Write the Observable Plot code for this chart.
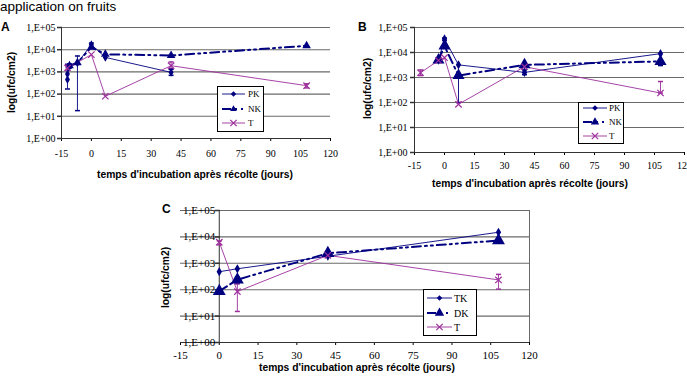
<!DOCTYPE html>
<html><head><meta charset="utf-8">
<script src="https://cdn.jsdelivr.net/npm/d3@7"></script>
<script src="https://cdn.jsdelivr.net/npm/@observablehq/plot@0.6"></script>
<style>
html,body{margin:0;padding:0;background:#fff;}
#root{position:relative;width:687px;height:380px;overflow:hidden;background:#fff;}
#root svg, #root svg text{font-family:"Liberation Serif","DejaVu Serif",serif !important;}
.abs{position:absolute;}
.ttl{font-family:"Liberation Sans",Arial,sans-serif;font-weight:bold;font-size:10.3px;white-space:nowrap;color:#000;}
.lab{font-family:"Liberation Sans",Arial,sans-serif;font-weight:bold;font-size:12px;color:#000;}
.main{font-family:"Liberation Sans",Arial,sans-serif;font-size:13.5px;line-height:14px;white-space:nowrap;color:#000;}
</style></head>
<body><div id="root"></div>
<script>
// ---------- data ----------
const xTicks = [-15, 0, 15, 30, 45, 60, 75, 90, 105, 120];
const yTicks = [1, 10, 100, 1000, 10000, 100000];
const yTickLabels = ["1,E+00", "1,E+01", "1,E+02", "1,E+03", "1,E+04", "1,E+05"];
const xTitle = "temps d'incubation après récolte (jours)";
const yTitle = "log(ufc/cm2)";
const chartTitle = "application on fruits";

// Panel A
const A_PK_day = [-12, -12, -11, -7, 0, 7, 40];
const A_PK_val = [450, 800, 1700, 2500, 17000, 4500, 950];
const A_NK_day = [-11, -7, 0, 7, 40, 108];
const A_NK_val = [1900, 2600, 13000, 6200, 5500, 15000];
const A_T_day = [-12, 0, 7, 40, 108];
const A_T_val = [1500, 6000, 80, 1900, 240];
const A_err_series = ["PK", "PK", "PK", "PK", "NK", "T", "T", "T"];
const A_err_day = [-12, -7, 0, 40, -11, -12, 40, 108];
const A_err_lo = [170, 18, 14000, 700, 1500, 1200, 1400, 190];
const A_err_hi = [2200, 5200, 20000, 1300, 2300, 2000, 2800, 290];

// Panel B
const B_PK_day = [-3, 0, 7, 40, 108];
const B_PK_val = [5000, 35000, 3200, 1600, 9000];
const B_NK_day = [-3, 0, 7, 40, 108];
const B_NK_val = [5000, 18000, 1200, 3200, 4400];
const B_T_day = [-12, -3, 0, 7, 40, 108];
const B_T_val = [1550, 4800, 6200, 85, 2700, 240];
const B_err_series = ["T", "NK", "PK", "PK", "NK", "T"];
const B_err_day = [-12, 7, 0, 40, 108, 108];
const B_err_lo = [1200, 100, 30000, 1300, 3000, 240];
const B_err_hi = [2000, 1200, 38000, 2000, 5000, 690];

// Panel C
const C_TK_day = [0, 7, 42, 108];
const C_TK_val = [480, 620, 1850, 15000];
const C_DK_day = [0, 7, 42, 108];
const C_DK_val = [88, 240, 2400, 7300];
const C_T_day = [0, 7, 42, 108];
const C_T_val = [6300, 85, 2000, 235];
const C_err_series = ["T", "T", "T", "DK"];
const C_err_day = [0, 7, 108, 7];
const C_err_lo = [5000, 15, 105, 170];
const C_err_hi = [7000, 170, 380, 300];

// ---------- styles ----------
const BLUE = "#000080", PURPLE = "#9c2f9c", GRID = "#6a6a6a", AX = "#333";
const styleOf = {
  PK: {stroke: BLUE, width: 0.9, dash: null, symbol: "diamond"},
  TK: {stroke: BLUE, width: 0.9, dash: null, symbol: "diamond"},
  NK: {stroke: BLUE, width: 2, dash: "9,4,2,4,2,4", symbol: "triangle"},
  DK: {stroke: BLUE, width: 2, dash: "9,4,2,4,2,4", symbol: "triangle"},
  T:  {stroke: PURPLE, width: 0.9, dash: null, symbol: "times"}
};
const hLine = {draw(ctx, size) { const r = Math.sqrt(size / Math.PI); ctx.moveTo(-r, 0); ctx.lineTo(r, 0); }};

function zip(days, vals) { return days.map((d, i) => ({x: d, y: vals[i]})); }

function panel(cfg) {
  const marks = [];
  marks.push(Plot.ruleY(yTicks, {y: d => d, stroke: GRID, strokeWidth: 1.1}));
  if (cfg.frameRight) marks.push(Plot.ruleX([120], {x: d => d, stroke: GRID}));
  marks.push(Plot.ruleY([1], {y: d => d, stroke: AX}));
  marks.push(Plot.ruleX([cfg.axisAt], {x: d => d, stroke: AX}));
  marks.push(Plot.dot(yTicks, {x: () => cfg.axisAt, y: d => d, symbol: hLine, r: 2.5, dx: -2, stroke: AX}));
  marks.push(Plot.text(yTicks, {x: () => cfg.axisAt, y: d => d, text: (d, i) => yTickLabels[i],
    textAnchor: "end", dx: -cfg.labelGap, fontFamily: "Liberation Serif", fontSize: cfg.fs, fill: "#000"}));
  // error bars
  const errs = cfg.err.day.map((d, i) => ({x: d, lo: cfg.err.lo[i], hi: cfg.err.hi[i], s: cfg.err.series[i]}));
  marks.push(Plot.ruleX(errs, {x: "x", y1: "lo", y2: "hi", stroke: d => styleOf[d.s].stroke, strokeWidth: 0.9}));
  marks.push(Plot.dot(errs, {x: "x", y: "lo", symbol: hLine, r: 2.5, stroke: d => styleOf[d.s].stroke}));
  marks.push(Plot.dot(errs, {x: "x", y: "hi", symbol: hLine, r: 2.5, stroke: d => styleOf[d.s].stroke}));
  for (const s of cfg.series) {
    const st = styleOf[s.name];
    const data = zip(s.day, s.val);
    marks.push(Plot.line(data, {x: "x", y: "y", stroke: st.stroke, strokeWidth: st.width, strokeDasharray: st.dash}));
  }
  for (const s of cfg.series) {
    const st = styleOf[s.name];
    const data = zip(s.day, s.val);
    const r = st.symbol === "triangle" ? cfg.triR : st.symbol === "diamond" ? cfg.diaR : 3;
    if (st.symbol === "times")
      marks.push(Plot.dot(data, {x: "x", y: "y", symbol: "times", r, stroke: st.stroke, strokeWidth: 1.2}));
    else
      marks.push(Plot.dot(data, {x: "x", y: "y", symbol: st.symbol, r, fill: st.stroke, stroke: "none"}));
  }
  const svg = Plot.plot({
    width: cfg.width, height: cfg.height,
    marginLeft: cfg.ml, marginRight: cfg.mr, marginTop: cfg.mt, marginBottom: cfg.mb,
    style: {fontFamily: "'Liberation Serif', serif", fontSize: cfg.fs + "px", color: "#000", background: "transparent", overflow: "visible"},
    x: {domain: [-15, 120], ticks: xTicks, tickSize: 3, tickPadding: cfg.tp, tickFormat: d => String(d), label: null},
    y: {type: "log", domain: [1, 100000], axis: null},
    marks
  });
  const div = document.createElement("div");
  div.className = "abs";
  div.style.left = cfg.left + "px"; div.style.top = cfg.top + "px";
  div.appendChild(svg);
  root.appendChild(div);
}

function text(str, cls, left, top, rotate) {
  const d = document.createElement("div");
  d.className = "abs " + cls;
  d.textContent = str;
  root.appendChild(d);
  if (rotate) {
    const w = d.offsetWidth, h = d.offsetHeight;
    d.style.left = (left - w / 2) + "px"; d.style.top = (top - h / 2) + "px";
    d.style.transform = "rotate(-90deg)";
  } else if (cls === "ttl") {
    const w = d.offsetWidth, h = d.offsetHeight;
    d.style.left = (left - w / 2) + "px"; d.style.top = (top - h / 2) + "px";
  } else {
    d.style.left = left + "px"; d.style.top = top + "px";
  }
  return d;
}

function legend(left, top, w, h, names, ys, x0, x1, tx, triR, fs) {
  const svg = d3.create("svg").attr("width", w + 1).attr("height", h + 1)
    .style("position", "absolute").style("left", left + "px").style("top", top + "px");
  svg.append("rect").attr("x", 0.5).attr("y", 0.5).attr("width", w).attr("height", h)
    .attr("fill", "#fff").attr("stroke", "#000");
  names.forEach((n, i) => {
    const st = styleOf[n], y = ys[i];
    svg.append("line").attr("x1", x0).attr("x2", x1).attr("y1", y).attr("y2", y)
      .attr("stroke", st.stroke).attr("stroke-width", st.width).attr("stroke-dasharray", st.dash);
    const cx = (x0 + x1) / 2;
    if (st.symbol === "times") {
      svg.append("path").attr("d", d3.symbol(d3.symbolTimes, Math.PI * 9)()).attr("transform", `translate(${cx},${y})`)
        .attr("stroke", st.stroke).attr("fill", "none").attr("stroke-width", 1.2);
    } else {
      const t = st.symbol === "triangle" ? d3.symbolTriangle2 : d3.symbolDiamond2;
      const r = st.symbol === "triangle" ? triR : 2.5;
      svg.append("path").attr("d", d3.symbol(t, Math.PI * r * r)()).attr("transform", `translate(${cx},${y})`)
        .attr("fill", st.stroke);
    }
    svg.append("text").attr("x", tx).attr("y", y).attr("dy", "0.35em").text(n)
      .attr("font-family", "Liberation Serif").attr("font-size", fs).attr("fill", "#000");
  });
  root.appendChild(svg.node());
}

const root = document.getElementById("root");

// title
text(chartTitle, "main", 0, 0);

// Panel A
panel({left: 0, top: 0, width: 335, height: 185, ml: 61, mr: 5, mt: 27, mb: 47, tp: 8, fs: 10, labelGap: 6,
  axisAt: -15, frameRight: false, triR: 3.2, diaR: 2.6,
  series: [{name: "PK", day: A_PK_day, val: A_PK_val}, {name: "NK", day: A_NK_day, val: A_NK_val}, {name: "T", day: A_T_day, val: A_T_val}],
  err: {series: A_err_series, day: A_err_day, lo: A_err_lo, hi: A_err_hi}});
// Panel B
panel({left: 340, top: 0, width: 347, height: 190, ml: 74, mr: 3, mt: 27, mb: 38, tp: 6, fs: 10, labelGap: 7,
  axisAt: -15, frameRight: false, triR: 4.5, diaR: 2.8,
  series: [{name: "PK", day: B_PK_day, val: B_PK_val}, {name: "NK", day: B_NK_day, val: B_NK_val}, {name: "T", day: B_T_day, val: B_T_val}],
  err: {series: B_err_series, day: B_err_day, lo: B_err_lo, hi: B_err_hi}});
// Panel C
panel({left: 150, top: 190, width: 400, height: 190, ml: 30, mr: 21, mt: 20, mb: 38, tp: 6, fs: 11, labelGap: 4,
  axisAt: 0, frameRight: true, triR: 4.8, diaR: 2.8,
  series: [{name: "TK", day: C_TK_day, val: C_TK_val}, {name: "DK", day: C_DK_day, val: C_DK_val}, {name: "T", day: C_T_day, val: C_T_val}],
  err: {series: C_err_series, day: C_err_day, lo: C_err_lo, hi: C_err_hi}});

// axis titles
text(yTitle, "ttl", 11, 82, true);
text(xTitle, "ttl", 195, 174);
text(yTitle, "ttl", 367, 88, true);
text(xTitle, "ttl", 530, 183);
text(yTitle, "ttl", 165, 277, true);
text(xTitle, "ttl", 357, 367);

// panel letters
text("A", "lab", 1, 20);
text("B", "lab", 358, 20);
text("C", "lab", 162, 202);

// legends
legend(217, 86, 46, 45, ["PK", "NK", "T"], [8, 23, 37], 5, 28, 31, 3.2, 9);
legend(578, 102, 45, 41, ["PK", "NK", "T"], [6, 20, 34], 5, 29, 31, 4, 9);
legend(423, 289, 53, 46, ["TK", "DK", "T"], [9, 24, 38], 4, 29, 31, 4.5, 10);
</script></body></html>
